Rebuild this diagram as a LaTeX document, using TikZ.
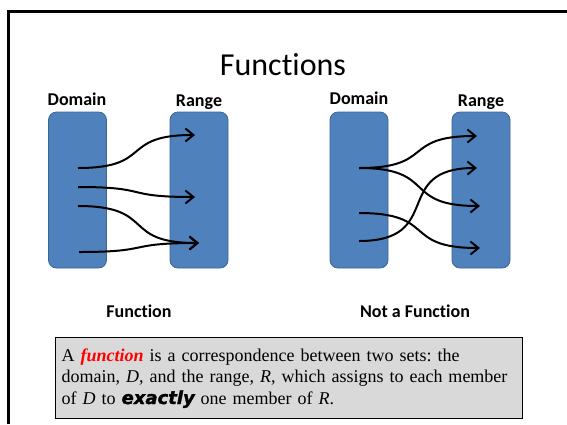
\documentclass[tikz,border=0pt]{standalone}
\usepackage{fontspec}
\setmainfont{Liberation Serif}
\newfontfamily\calibri[Ligatures=NoCommon]{Carlito}
\newfontfamily\heavyfont[BoldItalicFeatures={FakeBold=1.6}]{DejaVu Sans}
\usetikzlibrary{arrows.meta}
\definecolor{setblue}{HTML}{4F81BD}
\definecolor{setedge}{HTML}{3C6594}
\definecolor{notegray}{HTML}{D9D9D9}

\begin{document}
\frenchspacing
\begin{tikzpicture}[x=1pt, y=-1pt,
    set/.style={draw=setedge, fill=setblue, rounded corners=8pt, minimum width=58pt, minimum height=156pt, line width=0.8pt},
    lbl/.style={anchor=base, font=\calibri\fontsize{18}{20}\selectfont\bfseries},
    map/.style={-{Straight Barb[length=8pt, width=13pt]}, line width=2pt, out=0, in=180, looseness=1.6},
    note/.style={draw, line width=1.2pt, fill=notegray, anchor=north west, minimum width=467pt, minimum height=81pt, text width=455pt, inner xsep=6pt, inner ysep=1pt, align=left, font=\fontsize{18}{21.5}\selectfont}
]
    \useasboundingbox (0,0) rectangle (567,424);
    \draw[line width=3pt] (8,424) -- (8,11) -- (567,11);

    \node[anchor=base, font=\calibri\fontsize{32}{36}\selectfont] (title) at (283,75) {Functions};

    % function
    \node[set] (dom1) at (77.5,190) {};
    \node[set] (rng1) at (199,190) {};
    \node[lbl] (dlbl1) at (77,105) {Domain};
    \node[lbl] (rlbl1) at (199,106) {Range};
    \node[lbl] (cap1) at (139,317) {Function};

    \coordinate (a1) at (78,168);
    \coordinate (a2) at (78,187);
    \coordinate (a3) at (78,206);
    \coordinate (a4) at (79,252);
    \coordinate (b1) at (195,135);
    \coordinate (b2) at (195,197);
    \coordinate (b3) at (199,243);

    \draw[map] (a1) to (b1);
    \draw[map] (a2) to (b2);
    \draw[map] (a3) to (b3);
    \draw[map] (a4) to (b3);

    % not a function
    \node[set] (dom2) at (359,190) {};
    \node[set] (rng2) at (481,190) {};
    \node[lbl] (dlbl2) at (359,104) {Domain};
    \node[lbl] (rlbl2) at (481,106) {Range};
    \node[lbl] (cap2) at (415,317) {Not a Function};

    \coordinate (c1) at (359,168);
    \coordinate (c2) at (359,213);
    \coordinate (c3) at (359,241);
    \coordinate (e1) at (477,136);
    \coordinate (e2) at (477,168);
    \coordinate (e3) at (480,206);
    \coordinate (e4) at (480,248);

    \draw[map] (c1) to (e1);
    \draw[map] (c1) to (e3);
    \draw[map] (c2) to (e4);
    \draw[map] (c3) to (e2);

    \node[note] (def) at (55,337) {A \textcolor{red}{\textbf{\textit{function}}} is a correspondence between two sets: the\\
    domain, \textit{D}, and the range, \textit{R}, which assigns to each member\\
    of \textit{D} to {\heavyfont\bfseries\itshape exactly} one member of \textit{R}.};
\end{tikzpicture}
\end{document}
